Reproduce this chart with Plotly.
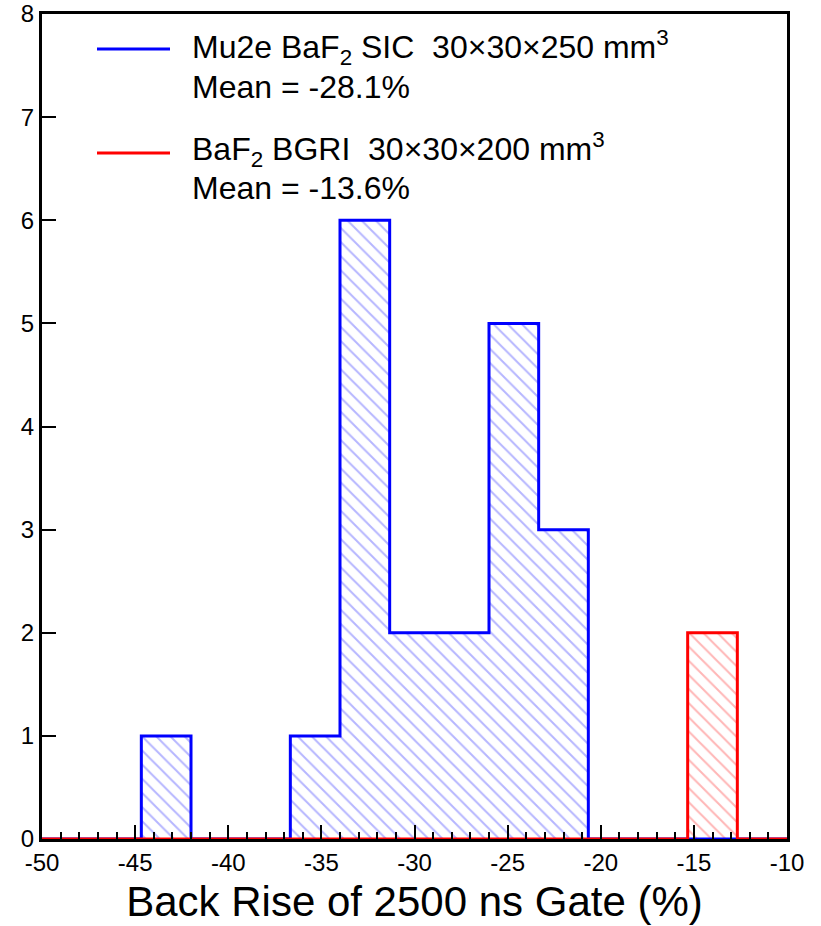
import numpy as np
import plotly.graph_objects as go

# ---- data ----
bin_edges = list(np.linspace(-50, -10, 16))  # 15 bins from -50 to -10
sic_counts = [0, 0, 1, 0, 0, 1, 6, 2, 2, 5, 3, 0, 0, 0, 0]
bgri_counts = [0, 0, 0, 0, 0, 0, 0, 0, 0, 0, 0, 0, 0, 2, 0]
x_tickvals = [-50, -45, -40, -35, -30, -25, -20, -15, -10]
x_ticktext = ["-50", "-45", "-40", "-35", "-30", "-25", "-20", "-15", "-10"]
y_tickvals = [0, 1, 2, 3, 4, 5, 6, 7, 8]
y_ticktext = ["0", "1", "2", "3", "4", "5", "6", "7", "8"]
sic_label = "Mu2e BaF<sub>2</sub> SIC  30×30×250 mm<sup>3</sup>"
sic_mean = "Mean = -28.1%"
bgri_label = "BaF<sub>2</sub> BGRI  30×30×200 mm<sup>3</sup>"
bgri_mean = "Mean = -13.6%"
x_title = "Back Rise of 2500 ns Gate (%)"

edges = np.array(bin_edges)
centers = (edges[:-1] + edges[1:]) / 2
width = edges[1] - edges[0]

FONT = "Liberation Sans, Arial, sans-serif"
BLUE = "#0000ff"
RED = "#ff0000"

fig = go.Figure()

def add_hist(counts, color, hatch):
    fig.add_trace(go.Bar(
        x=centers, y=counts, width=width,
        marker=dict(color="rgba(0,0,0,0)",
                    line=dict(width=0),
                    pattern=dict(shape="\\", fgcolor=hatch, bgcolor="rgba(0,0,0,0)",
                                 size=10, solidity=0.2)),
        showlegend=False, hoverinfo="skip"))
    fig.add_trace(go.Scatter(
        x=edges, y=list(counts) + [counts[-1]], mode="lines",
        line=dict(color=color, width=3, shape="hv"),
        showlegend=False, hoverinfo="skip"))

add_hist(sic_counts, BLUE, "rgba(60,60,255,0.75)")
add_hist(bgri_counts, RED, "rgba(255,60,60,0.75)")

PL, PR, PT, PB = 42, 787, 14, 839

def px_to_paper_x(px):
    return (px - PL) / (PR - PL)

def px_to_paper_y(py):
    return (PB - py) / (PB - PT)

for ycol, col in [(49, BLUE), (153, RED)]:
    fig.add_shape(type="line", xref="paper", yref="paper",
                  x0=px_to_paper_x(97), x1=px_to_paper_x(170),
                  y0=px_to_paper_y(ycol), y1=px_to_paper_y(ycol),
                  line=dict(color=col, width=3))

for txt, ypx in [(sic_label, 47), (sic_mean, 87), (bgri_label, 150), (bgri_mean, 188)]:
    fig.add_annotation(text=txt, xref="paper", yref="paper",
                       x=px_to_paper_x(190), y=px_to_paper_y(ypx),
                       xanchor="left", yanchor="middle", showarrow=False,
                       font=dict(family=FONT, size=32, color="black"))

fig.update_layout(
    width=821, height=926,
    margin=dict(l=PL, r=821 - PR, t=PT, b=926 - PB),
    paper_bgcolor="white", plot_bgcolor="white",
    barmode="overlay", bargap=0,
    font=dict(family=FONT, color="black"),
)
fig.update_xaxes(
    range=[-50, -10], tickmode="array", tickvals=x_tickvals, ticktext=x_ticktext,
    showgrid=False, zeroline=False,
    showline=True, linecolor="black", linewidth=3, mirror=True,
    ticks="inside", ticklen=14, tickwidth=2, tickcolor="black",
    minor=dict(dtick=1, tick0=-50, ticks="inside", ticklen=7, tickwidth=2, tickcolor="black", showgrid=False),
    tickfont=dict(family=FONT, size=24, color="black"),
    title=dict(text=x_title, font=dict(family=FONT, size=42, color="black"), standoff=12),
    automargin=False,
)
fig.update_yaxes(
    range=[0, 8], tickmode="array", tickvals=y_tickvals, ticktext=y_ticktext,
    showgrid=False, zeroline=False,
    showline=True, linecolor="black", linewidth=3, mirror=True,
    ticks="inside", ticklen=14, tickwidth=2, tickcolor="black",
    tickfont=dict(family=FONT, size=24, color="black"),
    automargin=False,
)

fig.write_html("out.html", config={"displayModeBar": False},
               post_script="document.body.style.margin='0';document.body.style.overflow='hidden';")
